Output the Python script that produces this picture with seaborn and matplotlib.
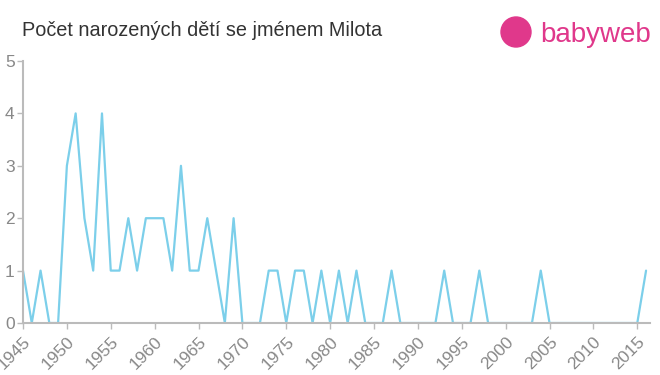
import matplotlib
matplotlib.use("Agg")
import matplotlib.pyplot as plt
import seaborn as sns
import pandas as pd
from matplotlib.patches import Ellipse

years = list(range(1945, 2017))
counts = [1, 0, 1, 0, 0, 3, 4, 2, 1, 4,
          1, 1, 2, 1, 2, 2, 2, 1, 3, 1,
          1, 2, 1, 0, 2, 0, 0, 0, 1, 1,
          0, 1, 1, 0, 1, 0, 1, 0, 1, 0,
          0, 0, 1, 0, 0, 0, 0, 0, 1, 0,
          0, 0, 1, 0, 0, 0, 0, 0, 0, 1,
          0, 0, 0, 0, 0, 0, 0, 0, 0, 0,
          0, 1]
x_ticks = list(range(1945, 2016, 5))
y_ticks = [0, 1, 2, 3, 4, 5]
title = "Počet narozených dětí se jménem Milota"

df = pd.DataFrame({"year": years, "count": counts})

sns.set_style("white")
plt.rcParams["font.family"] = ["Liberation Sans", "DejaVu Sans"]

fig = plt.figure(figsize=(6.6, 3.75), dpi=100)
ax = fig.add_axes([23/660, 52/375, (650-23)/660, (323-61)/375])

sns.lineplot(data=df, x="year", y="count", ax=ax, color="#7ccfea", linewidth=1.6)

ax.set_xlim(1945, 2016.45)
ax.set_ylim(0, 5)
ax.set_xticks(x_ticks)
ax.set_xticklabels([str(t) for t in x_ticks], rotation=45, ha="right",
                   rotation_mode="anchor", color="#888888", fontsize=12.5)
ax.set_yticks(y_ticks)
ax.set_yticklabels([str(t) for t in y_ticks], color="#888888", fontsize=12.5)
ax.set_xlabel("")
ax.set_ylabel("")
for s in ["top", "right"]:
    ax.spines[s].set_visible(False)
for s in ["left", "bottom"]:
    ax.spines[s].set_color("#bbbbbb")
    ax.spines[s].set_linewidth(1.5)
ax.tick_params(axis="both", which="both", length=4, width=1, color="#bbbbbb",
               direction="out", pad=2, left=True, bottom=True)
ax.tick_params(axis="x", pad=4)
ax.grid(False)

fig.text(22/660, 1 - 31/375, title, fontsize=14.3, color="#333333", va="center", ha="left")

# logo
fig.add_artist(Ellipse((516/660, 1 - 32/375), 30/660, 30/375, transform=fig.transFigure,
                       color="#e0388b", zorder=5))
fig.text(540/660, 1 - 35/375, "babyweb", fontsize=20, color="#e0388b",
         va="center", ha="left")

fig.savefig("out.png", dpi=100)
